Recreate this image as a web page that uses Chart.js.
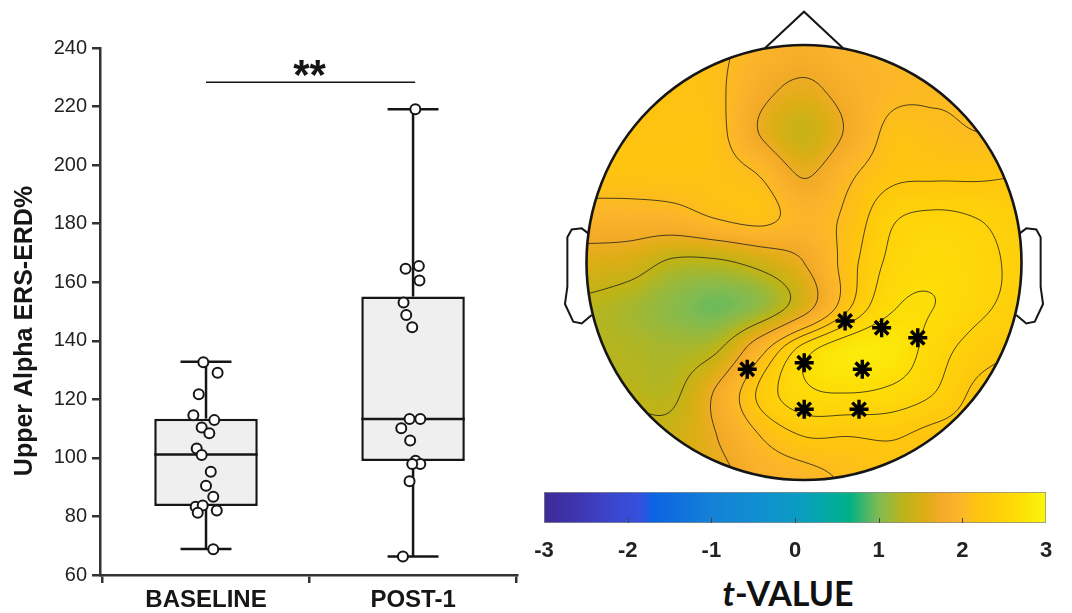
<!DOCTYPE html>
<html><head><meta charset="utf-8">
<script src="https://cdn.jsdelivr.net/npm/chart.js@4.4.1/dist/chart.umd.min.js"></script>
<style>
html,body{margin:0;padding:0;background:#fff;}
body{width:1072px;height:613px;position:relative;overflow:hidden;}
canvas{position:absolute;display:block;}
#box{left:0;top:0;}
#topo{left:555px;top:0;}
#cbar{left:530px;top:485px;}
#tlabel{position:absolute;left:688px;width:200px;top:575px;text-align:center;font:700 34px Lato,"Open Sans",sans-serif;line-height:36px;color:#111;}
</style></head>
<body>
<canvas id="box" width="535" height="613"></canvas>
<canvas id="topo" width="500" height="490"></canvas>
<canvas id="cbar" width="542" height="80"></canvas>
<div id="tlabel"><i>t</i>-VALUE</div>
<script>
// ---------------- data: box plot ----------------
const CATEGORIES = ['BASELINE', 'POST-1'];
const Y_TICKS = [60, 80, 100, 120, 140, 160, 180, 200, 220, 240];
const Y_TITLE = 'Upper Alpha ERS-ERD%';
const BASELINE_VALUES = [132.7, 129.1, 121.7, 114.6, 112.9, 110.4, 108.4, 103.2, 101.0, 95.3, 90.5, 86.7, 83.3, 83.7, 81.3, 82.0, 68.8];
const BASELINE_JITTER = [-0.013, 0.056, -0.035, -0.061, 0.040, -0.021, 0.016, -0.045, -0.021, 0.023, 0.0, 0.035, -0.050, -0.016, -0.040, 0.052, 0.035];
const POST1_VALUES = [219.1, 164.6, 165.5, 160.6, 153.1, 148.8, 144.6, 113.3, 113.3, 110.1, 105.9, 99.0, 97.9, 97.9, 92.0, 66.3];
const POST1_JITTER = [0.011, -0.036, 0.028, 0.031, -0.046, -0.033, -0.004, -0.017, 0.035, -0.057, -0.014, 0.012, 0.035, -0.004, -0.017, -0.049];
const WHISKER_LOW = [68.9, 66.3];
const Q1 = [83.6, 98.9];
const MEDIAN = [101.2, 113.3];
const Q3 = [113.4, 155.1];
const WHISKER_HIGH = [132.8, 219.1];
const SIG_Y = 228.3;
const SIG_LABEL = '**';

// ---------------- data: topographic map ----------------
const GRID_X = [-1, -0.8, -0.6, -0.4, -0.2, 0, 0.2, 0.4, 0.6, 0.8, 1];
const GRID_Y = [1, 0.8, 0.6, 0.4, 0.2, 0, -0.2, -0.4, -0.6, -0.8, -1];
const T_GRID = [
  [2.17, 2.17, 2.17, 2.10, 1.95, 1.85, 1.95, 2.00, 2.00, 2.00, 2.00],
  [2.17, 2.17, 2.17, 2.10, 1.80, 1.64, 1.83, 1.98, 2.02, 2.02, 2.02],
  [2.17, 2.17, 2.17, 2.13, 1.68, 1.40, 1.74, 2.12, 2.10, 2.05, 2.05],
  [2.17, 2.17, 2.17, 2.15, 2.04, 1.68, 2.00, 2.20, 2.22, 2.22, 2.25],
  [1.90, 1.90, 1.92, 2.05, 2.12, 1.95, 2.10, 2.42, 2.50, 2.45, 2.35],
  [1.55, 1.50, 1.30, 1.30, 1.45, 1.70, 2.15, 2.50, 2.60, 2.52, 2.40],
  [1.30, 1.20, 1.05, 0.95, 1.10, 1.55, 2.20, 2.62, 2.65, 2.50, 2.38],
  [1.28, 1.25, 1.20, 1.32, 1.95, 2.55, 2.80, 2.80, 2.55, 2.35, 2.25],
  [1.30, 1.30, 1.30, 1.75, 2.30, 2.60, 2.65, 2.60, 2.45, 2.20, 2.15],
  [1.45, 1.45, 1.45, 1.70, 2.05, 2.25, 2.25, 2.27, 2.18, 2.15, 2.10],
  [1.50, 1.50, 1.55, 1.60, 1.85, 1.95, 2.08, 2.15, 2.15, 2.10, 2.10]
];
const CONTOUR_LEVELS = [1.35, 1.7, 2.05, 2.25, 2.45, 2.65];
const ELECTRODE_X = [0.189, 0.357, 0.523, 0.001, 0.268, -0.261, 0.001, 0.253];
const ELECTRODE_Y = [-0.269, -0.300, -0.346, -0.461, -0.491, -0.491, -0.675, -0.675];
const NOSE_X = [-0.18, 0.0, 0.18];
const NOSE_Y = [0.985, 1.153, 0.985];
const EAR_X = [-0.992, -1.022, -1.068, -1.088, -1.088, -1.099, -1.061, -1.022, -0.976];
const EAR_Y = [0.134, 0.157, 0.152, 0.116, -0.111, -0.191, -0.272, -0.280, -0.241];

// ---------------- data: colour bar ----------------
const CBAR_TICKS = [-3, -2, -1, 0, 1, 2, 3];
const CMAP_T = [-3, -2.6, -2.2, -1.85, -1.7, -1.0, -0.4, 0.0, 0.35, 0.65, 1.0, 1.3, 1.55, 1.75, 1.95, 2.2, 2.45, 2.7, 3.0];
const CMAP_COLORS = ['#3b2b95', '#3e35b0', '#3c45cc', '#3451de', '#0c63e4', '#1481d6', '#1090d0', '#0a9bc4', '#03a8a8', '#00b186', '#80bb52', '#bcb418', '#dcae14', '#f4ab28', '#fbb52a', '#fec50e', '#fed20a', '#fddf06', '#f8f80f'];

// ======================================================
const FONT = '"Liberation Sans", Arial, sans-serif';
const INK = '#161616';

// ---------- box plot ----------
const CAP = 0.123, HALF = 0.25;
function seg(x0, y0, x1, y1) { return [{x: x0, y: y0}, {x: x1, y: y1}]; }
const lineDS = (data) => ({type: 'line', data, borderColor: INK, borderWidth: 2.5, pointRadius: 0, fill: false, order: 1, borderCapStyle: 'butt'});
const boxDatasets = [];
boxDatasets.push({type: 'scatter', data: BASELINE_VALUES.map((v, k) => ({x: 0 + BASELINE_JITTER[k], y: v})),
  pointRadius: 5, pointBorderWidth: 2, backgroundColor: '#ffffff', borderColor: INK, order: 0});
boxDatasets.push({type: 'scatter', data: POST1_VALUES.map((v, k) => ({x: 1 + POST1_JITTER[k], y: v})),
  pointRadius: 5, pointBorderWidth: 2, backgroundColor: '#ffffff', borderColor: INK, order: 0});
CATEGORIES.forEach((c, i) => {
  boxDatasets.push(lineDS(seg(i, Q3[i], i, WHISKER_HIGH[i])));
  boxDatasets.push(lineDS(seg(i, WHISKER_LOW[i], i, Q1[i])));
  boxDatasets.push(lineDS(seg(i - CAP, WHISKER_HIGH[i], i + CAP, WHISKER_HIGH[i])));
  boxDatasets.push(lineDS(seg(i - CAP, WHISKER_LOW[i], i + CAP, WHISKER_LOW[i])));
  boxDatasets.push(lineDS(seg(i - HALF, MEDIAN[i], i + HALF, MEDIAN[i])));
});
boxDatasets.push({type: 'line', data: seg(0, SIG_Y, 1.01, SIG_Y), borderColor: INK, borderWidth: 1.6, pointRadius: 0, order: 1});
boxDatasets.push({type: 'bar', data: CATEGORIES.map((c, i) => ({x: i, y: [Q1[i], Q3[i]]})),
  backgroundColor: '#efefef', borderColor: INK, borderWidth: 2.5, borderSkipped: false,
  barPercentage: 0.5, categoryPercentage: 1, order: 2});

const boxText = {
  id: 'boxText',
  afterDraw(chart) {
    const {ctx, scales: {x, y}} = chart;
    ctx.save();
    ctx.fillStyle = INK;
    ctx.font = '700 42px ' + FONT;
    ctx.textAlign = 'center';
    ctx.textBaseline = 'alphabetic';
    ctx.fillText(SIG_LABEL, x.getPixelForValue(0.5), y.getPixelForValue(SIG_Y) + 7);
    ctx.translate(25, 331);
    ctx.rotate(-Math.PI / 2);
    ctx.font = '700 25px ' + FONT;
    ctx.textBaseline = 'middle';
    ctx.fillText(Y_TITLE, 0, 0);
    ctx.restore();
  }
};

new Chart(document.getElementById('box'), {
  type: 'bar',
  data: {datasets: boxDatasets},
  options: {
    responsive: false, animation: false,
    layout: {padding: {top: 48, right: 18, left: 0, bottom: 0}, autoPadding: false},
    plugins: {legend: {display: false}, tooltip: {enabled: false}},
    scales: {
      x: {
        type: 'linear', min: -0.512, max: 1.502, offset: false,
        afterBuildTicks: (s) => { s.ticks = CATEGORIES.map((c, i) => ({value: i})); },
        afterFit: (s) => { s.height = 38; },
        ticks: {callback: (v) => CATEGORIES[v] ?? '', font: {family: FONT, size: 24, weight: '700'}, color: INK, padding: 3, maxRotation: 0, autoSkip: false},
        grid: {drawOnChartArea: false, drawTicks: true, tickLength: 8, color: '#333', lineWidth: 2.5},
        border: {color: '#333', width: 2.5}
      },
      y: {
        min: 60, max: 240,
        afterBuildTicks: (s) => { s.ticks = Y_TICKS.map(v => ({value: v})); },
        afterFit: (s) => { s.width = 100; },
        ticks: {font: {family: FONT, size: 20}, color: '#222', padding: 5},
        grid: {drawOnChartArea: false, drawTicks: true, tickLength: 8, color: '#333', lineWidth: 2.5},
        border: {color: '#333', width: 2.5}
      }
    }
  },
  plugins: [boxText]
});

// ---------- colour map ----------
function hexRGB(h) { return [parseInt(h.slice(1, 3), 16), parseInt(h.slice(3, 5), 16), parseInt(h.slice(5, 7), 16)]; }
const CMAP_RGB = CMAP_COLORS.map(hexRGB);
function cmap(t) {
  if (t <= CMAP_T[0]) return CMAP_RGB[0];
  for (let k = 1; k < CMAP_T.length; k++) {
    if (t <= CMAP_T[k]) {
      const f = (t - CMAP_T[k - 1]) / (CMAP_T[k] - CMAP_T[k - 1]);
      const a = CMAP_RGB[k - 1], b = CMAP_RGB[k];
      return [a[0] + (b[0] - a[0]) * f, a[1] + (b[1] - a[1]) * f, a[2] + (b[2] - a[2]) * f];
    }
  }
  return CMAP_RGB[CMAP_RGB.length - 1];
}

// ---------- topographic map ----------
const GX0 = GRID_X[0], GXS = GRID_X[1] - GRID_X[0];
const GY0 = GRID_Y[0], GYS = GRID_Y[0] - GRID_Y[1];
const NX = GRID_X.length, NY = GRID_Y.length;
function cr(p0, p1, p2, p3, t) {
  return p1 + 0.5 * t * (p2 - p0 + t * (2 * p0 - 5 * p1 + 4 * p2 - p3 + t * (3 * (p1 - p2) + p3 - p0)));
}
const clampI = (v, n) => Math.max(0, Math.min(n - 1, v));
function field(vx, vy) {
  const gx = (vx - GX0) / GXS, gy = (GY0 - vy) / GYS;
  const ix = Math.max(0, Math.min(NX - 2, Math.floor(gx)));
  const iy = Math.max(0, Math.min(NY - 2, Math.floor(gy)));
  const tx = gx - ix, ty = gy - iy;
  const r = [];
  for (let m = -1; m <= 2; m++) {
    const row = T_GRID[clampI(iy + m, NY)];
    r.push(cr(row[clampI(ix - 1, NX)], row[clampI(ix, NX)], row[clampI(ix + 1, NX)], row[clampI(ix + 2, NX)], tx));
  }
  return cr(r[0], r[1], r[2], r[3], ty);
}

const topoField = {
  id: 'topoField',
  beforeDatasetsDraw(chart) {
    const {ctx, scales: {x, y}} = chart;
    const cx = x.getPixelForValue(0), cy = y.getPixelForValue(0);
    const R = x.getPixelForValue(1) - cx;
    const x0 = Math.floor(cx - R) - 1, y0 = Math.floor(cy - R) - 1, size = Math.ceil(2 * R) + 3;
    const off = document.createElement('canvas');
    off.width = size; off.height = size;
    const octx = off.getContext('2d');
    const img = octx.createImageData(size, size);
    for (let j = 0; j < size; j++) {
      for (let i = 0; i < size; i++) {
        const vx = x.getValueForPixel(x0 + i + 0.5), vy = y.getValueForPixel(y0 + j + 0.5);
        if (vx * vx + vy * vy > 1.03) continue;
        const c = cmap(field(vx, vy));
        const p = (j * size + i) * 4;
        img.data[p] = c[0]; img.data[p + 1] = c[1]; img.data[p + 2] = c[2]; img.data[p + 3] = 255;
      }
    }
    octx.putImageData(img, 0, 0);
    ctx.save();
    ctx.beginPath(); ctx.arc(cx, cy, R, 0, Math.PI * 2); ctx.clip();
    ctx.drawImage(off, x0, y0);
    // contour lines (marching squares)
    const st = 2, n = Math.ceil(size / st) + 1;
    const V = new Float32Array(n * n);
    for (let j = 0; j < n; j++) for (let i = 0; i < n; i++) {
      V[j * n + i] = field(x.getValueForPixel(x0 + i * st), y.getValueForPixel(y0 + j * st));
    }
    ctx.strokeStyle = 'rgba(25,25,25,0.85)';
    ctx.lineWidth = 0.9;
    CONTOUR_LEVELS.forEach(L => {
      ctx.beginPath();
      for (let j = 0; j < n - 1; j++) for (let i = 0; i < n - 1; i++) {
        const a = V[j * n + i], b = V[j * n + i + 1], c = V[(j + 1) * n + i + 1], d = V[(j + 1) * n + i];
        const pts = [];
        if ((a < L) !== (b < L)) pts.push([i + (L - a) / (b - a), j]);
        if ((b < L) !== (c < L)) pts.push([i + 1, j + (L - b) / (c - b)]);
        if ((d < L) !== (c < L)) pts.push([i + (L - d) / (c - d), j + 1]);
        if ((a < L) !== (d < L)) pts.push([i, j + (L - a) / (d - a)]);
        for (let q = 0; q + 1 < pts.length; q += 2) {
          ctx.moveTo(x0 + pts[q][0] * st, y0 + pts[q][1] * st);
          ctx.lineTo(x0 + pts[q + 1][0] * st, y0 + pts[q + 1][1] * st);
        }
      }
      ctx.stroke();
    });
    ctx.restore();
    ctx.save();
    ctx.beginPath(); ctx.arc(cx, cy, R, 0, Math.PI * 2);
    ctx.lineWidth = 2.6; ctx.strokeStyle = INK; ctx.stroke();
    ctx.restore();
  }
};

const outline = (xs, ys) => ({type: 'scatter', showLine: true, data: xs.map((v, k) => ({x: v, y: ys[k]})),
  borderColor: INK, borderWidth: 2, pointRadius: 0, fill: false, order: 1, tension: 0});
new Chart(document.getElementById('topo'), {
  type: 'scatter',
  data: {datasets: [
    {data: ELECTRODE_X.map((v, k) => ({x: v, y: ELECTRODE_Y[k]})), pointStyle: 'star', pointRadius: 9.5,
      pointBorderWidth: 3.4, borderColor: '#000', backgroundColor: '#000', order: 0},
    outline(NOSE_X, NOSE_Y),
    outline(EAR_X, EAR_Y),
    outline(EAR_X.map(v => -v), EAR_Y)
  ]},
  options: {
    responsive: false, animation: false,
    layout: {padding: 0, autoPadding: false},
    plugins: {legend: {display: false}, tooltip: {enabled: false}},
    scales: {
      x: {type: 'linear', min: -249 / 217.5, max: 251 / 217.5, display: false},
      y: {type: 'linear', min: -227.5 / 217.5, max: 262.5 / 217.5, display: false}
    }
  },
  plugins: [topoField]
});

// ---------- colour bar ----------
const cbarTicks = {
  id: 'cbarTicks',
  afterDatasetsDraw(chart) {
    const {ctx, chartArea, scales: {x}} = chart;
    ctx.save();
    ctx.strokeStyle = '#444'; ctx.lineWidth = 1;
    CBAR_TICKS.slice(1, -1).forEach(v => {
      const px = Math.round(x.getPixelForValue(v)) + 0.5;
      ctx.beginPath(); ctx.moveTo(px, chartArea.bottom); ctx.lineTo(px, chartArea.bottom - 5); ctx.stroke();
    });
    ctx.restore();
  }
};
new Chart(document.getElementById('cbar'), {
  type: 'bar',
  data: {labels: ['t'], datasets: [{
    data: [[CBAR_TICKS[0], CBAR_TICKS[CBAR_TICKS.length - 1]]],
    backgroundColor: (c) => {
      const ch = c.chart, sx = ch.scales.x;
      if (!ch.chartArea || !sx) return '#fbb734';
      const g = ch.ctx.createLinearGradient(sx.getPixelForValue(CMAP_T[0]), 0, sx.getPixelForValue(CMAP_T[CMAP_T.length - 1]), 0);
      CMAP_T.forEach((t, k) => g.addColorStop((t - CMAP_T[0]) / (CMAP_T[CMAP_T.length - 1] - CMAP_T[0]), CMAP_COLORS[k]));
      return g;
    },
    borderColor: '#8a8a8a', borderWidth: 1, borderSkipped: false, barPercentage: 1, categoryPercentage: 1
  }]},
  options: {
    indexAxis: 'y', responsive: false, animation: false,
    layout: {padding: {left: 14, right: 26, top: 7, bottom: 0}, autoPadding: false},
    plugins: {legend: {display: false}, tooltip: {enabled: false}},
    scales: {
      x: {
        type: 'linear', min: -3, max: 3,
        afterBuildTicks: (s) => { s.ticks = CBAR_TICKS.map(v => ({value: v})); },
        afterFit: (s) => { s.height = 42; s.paddingLeft = 0; s.paddingRight = 0; },
        ticks: {font: {family: FONT, size: 22, weight: '700'}, color: '#222', padding: 15, maxRotation: 0},
        grid: {display: false, drawTicks: false},
        border: {display: false}
      },
      y: {display: false}
    }
  },
  plugins: [cbarTicks]
});
</script>
</body></html>
